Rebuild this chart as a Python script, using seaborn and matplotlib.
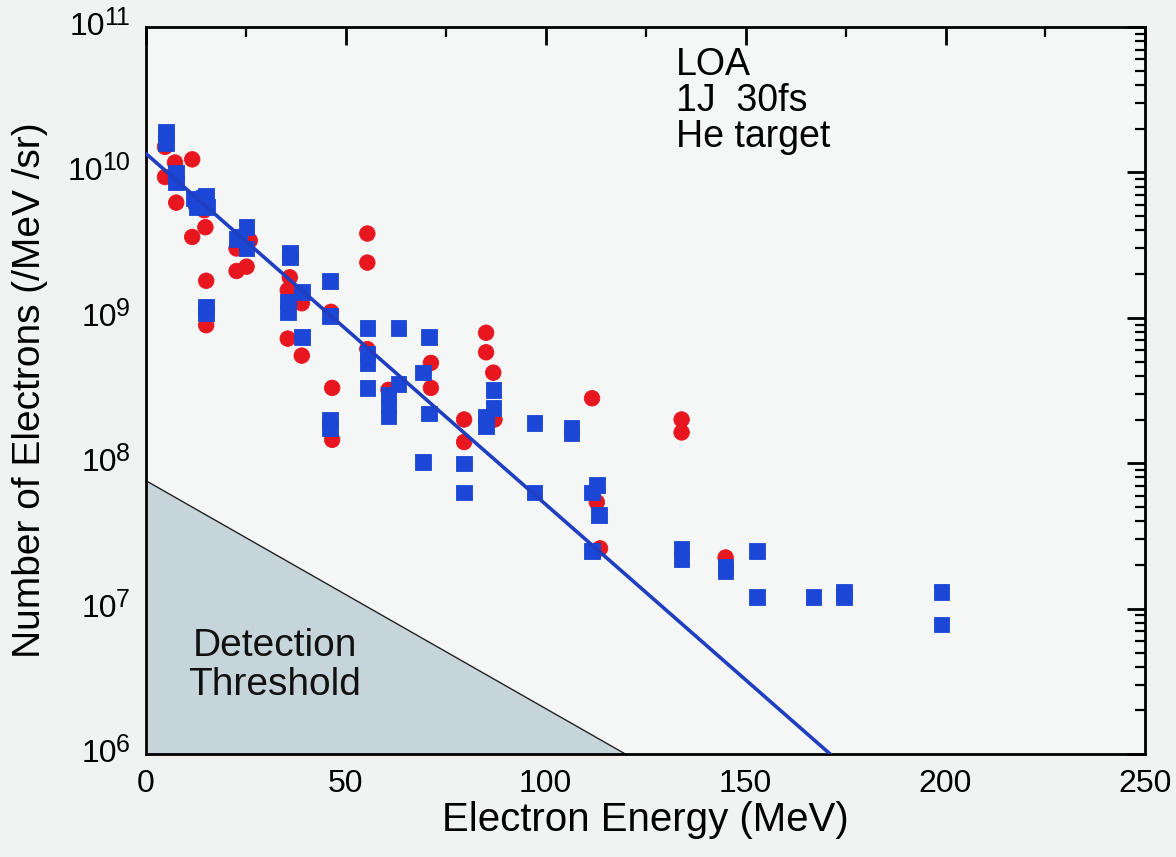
import numpy as np
import pandas as pd
import matplotlib
matplotlib.use("Agg")
import matplotlib.pyplot as plt
import seaborn as sns
from matplotlib.ticker import MultipleLocator, LogLocator, NullFormatter
import matplotlib.transforms as mtransforms

# ---- data ----
red_energy = [4.8, 4.8, 7.3, 11.6, 7.6, 14.6, 14.9, 11.6, 15.1, 15.1, 22.7, 22.7, 25.2, 26.0,
              55.4, 55.4, 36.0, 35.5, 39.0, 35.5, 39.0, 46.3, 46.6, 46.6, 55.4, 60.7, 71.3, 71.3,
              85.1, 85.1, 86.9, 87.2, 79.6, 79.6, 111.6, 112.8, 113.6, 134.0, 134.0, 145.0]
red_counts = [1.5e10, 9.3e9, 1.17e10, 1.23e10, 6.2e9, 5.5e9, 4.2e9, 3.6e9, 1.8e9, 8.9e8, 3.0e9, 2.1e9, 2.25e9, 3.4e9,
              3.8e9, 2.4e9, 1.9e9, 1.55e9, 1.26e9, 7.2e8, 5.5e8, 1.1e9, 3.3e8, 1.45e8, 6.1e8, 3.2e8, 4.9e8, 3.3e8,
              7.9e8, 5.8e8, 4.2e8, 2.0e8, 2.0e8, 1.4e8, 2.8e8, 5.4e7, 2.6e7, 2.0e8, 1.63e8, 2.25e7]

blue_energy = [5.0, 5.0, 7.6, 7.6, 12.1, 14.6, 12.6, 15.0, 15.3, 12.8, 25.2, 23.4, 22.7, 25.2, 15.1, 15.1,
               36.0, 36.0, 35.5, 35.5, 39.0, 39.0, 46.0, 46.0, 46.0, 46.0, 55.4, 55.4, 55.4, 55.4, 63.2,
               60.7, 60.7, 60.7, 63.2, 70.8, 69.3, 70.8, 69.3, 79.6, 79.6, 86.9, 86.9, 85.1, 85.1, 97.2,
               106.5, 106.5, 97.2, 112.8, 111.6, 113.3, 111.6, 134.0, 134.0, 145.0, 145.0, 152.9, 152.9,
               167.0, 174.6, 174.6, 199.0, 199.0]
blue_counts = [1.9e10, 1.6e10, 1.0e10, 8.5e9, 6.6e9, 6.7e9, 6.4e9, 6.9e9, 5.8e9, 5.8e9, 4.2e9, 3.6e9, 3.5e9, 3.0e9, 1.2e9, 1.07e9,
               2.8e9, 2.6e9, 1.3e9, 1.1e9, 1.5e9, 7.4e8, 1.8e9, 1.03e9, 2.0e8, 1.75e8, 8.5e8, 5.7e8, 4.9e8, 3.3e8, 8.5e8,
               2.95e8, 2.5e8, 2.1e8, 3.5e8, 7.4e8, 4.2e8, 2.2e8, 1.02e8, 1.0e8, 6.3e7, 3.2e8, 2.4e8, 2.1e8, 1.8e8, 1.9e8,
               1.75e8, 1.6e8, 6.3e7, 7.1e7, 6.3e7, 4.4e7, 2.5e7, 2.6e7, 2.2e7, 1.95e7, 1.8e7, 2.5e7, 1.2e7,
               1.2e7, 1.3e7, 1.2e7, 1.3e7, 7.8e6]

fit_amplitude = 1.35e10      # electrons / MeV / sr at E = 0
fit_temperature = 18.0       # MeV
fit_energy_range = [0.0, 171.5]

threshold_energy = [0.0, 120.0]
threshold_counts = [7.6e7, 1.0e6]

x_ticks = [0, 50, 100, 150, 200, 250]
y_tick_exponents = [6, 7, 8, 9, 10, 11]
annotation_lines = ["LOA", "1J  30fs", "He target"]
threshold_label = ["Detection", "Threshold"]

# ---- figure ----
sns.set_style("white")
plt.rcParams["font.family"] = ["Liberation Sans", "DejaVu Sans"]
plt.rcParams["text.color"] = "black"
plt.rcParams["axes.labelcolor"] = "black"
plt.rcParams["xtick.color"] = "black"
plt.rcParams["ytick.color"] = "black"

bg = "#f1f2f2"
fig = plt.figure(figsize=(11.76, 8.57), dpi=100, facecolor=bg)
ax = fig.add_axes([0.124, 0.120, 0.850, 0.8485])
ax.set_facecolor("#f5f6f6")

# detection threshold region
thr_x = np.linspace(threshold_energy[0], threshold_energy[1], 200)
k = np.log(threshold_counts[0] / threshold_counts[1]) / (threshold_energy[1] - threshold_energy[0])
thr_y = threshold_counts[0] * np.exp(-k * (thr_x - threshold_energy[0]))
ax.fill_between(thr_x, 1e6, thr_y, color="#c6d5da", zorder=1, linewidth=0)
ax.plot(thr_x, thr_y, color="#222222", lw=1.0, zorder=1.5)

df = pd.concat([
    pd.DataFrame({"energy": red_energy, "counts": red_counts, "set": "red"}),
    pd.DataFrame({"energy": blue_energy, "counts": blue_counts, "set": "blue"}),
])
sns.scatterplot(data=df, x="energy", y="counts", hue="set", style="set",
                palette={"red": "#e8161f", "blue": "#1b46d6"},
                markers={"red": "o", "blue": "s"},
                s=125, linewidth=0.6, edgecolor=None, legend=False, ax=ax, zorder=3)

# exponential fit
fit_x = np.linspace(fit_energy_range[0], fit_energy_range[1], 200)
fit_df = pd.DataFrame({"energy": fit_x, "counts": fit_amplitude * np.exp(-fit_x / fit_temperature)})
sns.lineplot(data=fit_df, x="energy", y="counts", color="#1f3fc0", lw=2.6, ax=ax, zorder=4)

ax.set_yscale("log")
ax.set_xlim(0, 250)
ax.set_ylim(1e6, 1e11)
ax.set_xticks(x_ticks)
ax.set_xticklabels([str(v) for v in x_ticks])
ax.xaxis.set_minor_locator(MultipleLocator(25))
y_ticks = [10.0 ** e for e in y_tick_exponents]
ax.set_yticks(y_ticks)
ax.set_yticklabels([""] * len(y_ticks))
ax.yaxis.set_minor_locator(LogLocator(base=10, subs=np.arange(2, 10)))
ax.yaxis.set_minor_formatter(NullFormatter())

ax.tick_params(which="both", direction="in", top=True, right=True, color="black", labelcolor="black")
ax.tick_params(which="major", length=13, width=2, labelsize=23, pad=11)
ax.tick_params(which="minor", length=7, width=1.6)
for sp in ax.spines.values():
    sp.set_color("black")
    sp.set_linewidth(2)

ax.set_xlabel("Electron Energy (MeV)", fontsize=29, color="black")
ax.xaxis.set_label_coords(0.5, -0.064)
ax.set_ylabel("Number of Electrons (/MeV /sr)", fontsize=28, color="black")
ax.yaxis.set_label_coords(-0.098, 0.5)

# y tick labels as 10 with a large raised exponent
fig.canvas.draw()
renderer = fig.canvas.get_renderer()
trans = mtransforms.blended_transform_factory(ax.transAxes, ax.transData)
for e, yv in zip(y_tick_exponents, y_ticks):
    sup = ax.annotate(str(e), xy=(0, yv), xycoords=trans, xytext=(-16, 9),
                      textcoords="offset pixels", ha="right", va="center",
                      fontsize=18, color="black", annotation_clip=False)
    w = sup.get_window_extent(renderer).width
    ax.annotate("10", xy=(0, yv), xycoords=trans, xytext=(-16 - w + 1, 0),
                textcoords="offset pixels", ha="right", va="center",
                fontsize=23, color="black", annotation_clip=False)

ax.text(0.5305, 0.972, "\n".join(annotation_lines), transform=ax.transAxes,
        fontsize=27, va="top", ha="left", linespacing=1.0, color="black")
ax.text(0.129, 0.122, "\n".join(threshold_label), transform=ax.transAxes,
        fontsize=28, va="center", ha="center", linespacing=1.08, color="#111111")

fig.savefig("out.png", dpi=100, facecolor=bg)
